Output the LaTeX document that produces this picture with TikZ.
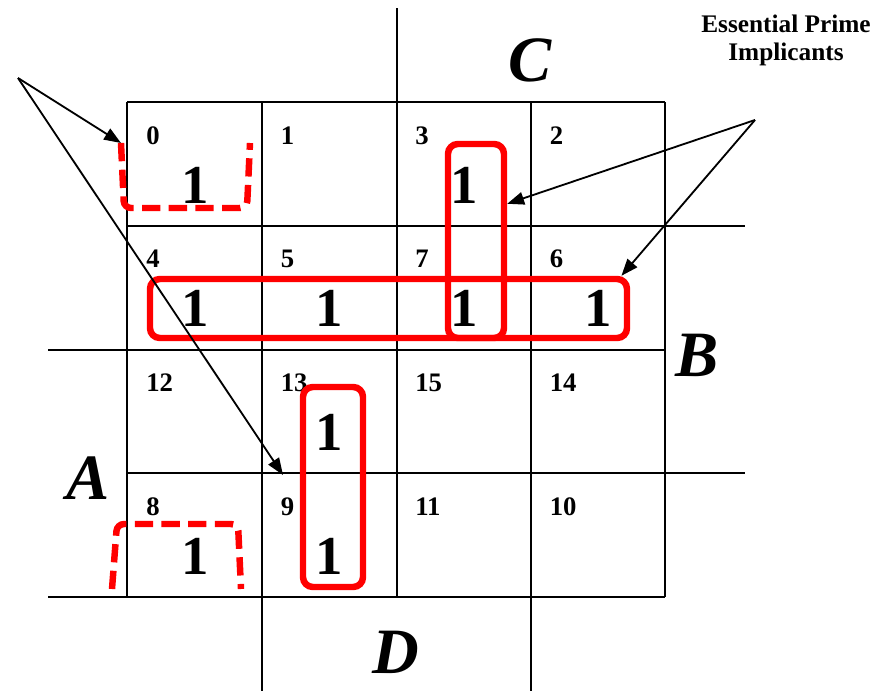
\documentclass[tikz,border=0pt]{standalone}
\usepackage{fontspec}
\setmainfont{Liberation Serif}
\usetikzlibrary{arrows.meta, fit}
\tikzset{
  kline/.style={line width=1.5pt},
  idx/.style={anchor=base west, inner sep=0pt, font=\bfseries\fontsize{19}{19}\selectfont},
  one/.style={anchor=base, inner sep=0pt, font=\bfseries\fontsize{39}{39}\selectfont},
  var/.style={inner sep=0pt, font=\bfseries\itshape\fontsize{46}{46}\selectfont},
  group/.style={draw=red, line width=4.6pt, rounded corners=7pt, inner sep=0pt},
  dgroup/.style={draw=red, line width=4.6pt, dash pattern=on 13pt off 6pt, rounded corners=5pt},
  arrow/.style={line width=1.3pt, -{Triangle[length=12pt, width=9pt]}}
}

\begin{document}
\begin{tikzpicture}[x=0.025cm, y=-0.025cm]
  \useasboundingbox (0,0) rectangle (884,691);

  % map lines
  \draw[kline] (127,102) -- (665,102);
  \draw[kline] (127,226) -- (745,226);
  \draw[kline] (48,350) -- (665,350);
  \draw[kline] (127,473) -- (745,473);
  \draw[kline] (48,597) -- (665,597);
  \draw[kline] (127,102) -- (127,597);
  \draw[kline] (262,102) -- (262,691);
  \draw[kline] (397,8) -- (397,597);
  \draw[kline] (531,102) -- (531,691);
  \draw[kline] (665,102) -- (665,597);

  % minterm numbers
  \foreach \n [count=\k from 0] in {0,1,3,2,4,5,7,6,12,13,15,14,8,9,11,10} {
    \pgfmathtruncatemacro\c{mod(\k,4)}
    \pgfmathtruncatemacro\r{div(\k,4)}
    \node[idx] (m\n) at (127+134.5*\c+19, 102+123.75*\r+42) {\n};
  }

  % ones
  \foreach \c/\r/\n in {0/0/0, 2/0/3, 0/1/4, 1/1/5, 2/1/7, 3/1/6, 1/2/13, 1/3/9, 0/3/8}
    \node[one] (one\n) at (127+134.5*\c+68, 102+123.75*\r+101) {1};

  % variables
  \node[var] (vc) at (530,60) {C};
  \node[var] (vb) at (697,355) {B};
  \node[var] (va) at (88,478) {A};
  \node[var] (vd) at (396,652) {D};

  \node[align=center, font=\bfseries\fontsize{18}{20}\selectfont] (epi) at (786,40) {Essential Prime\\Implicants};

  % groups
  \node[group, fit={(150,279) (627,338)}] (grow) {};
  \node[group, fit={(448,144) (504,338)}] (g37) {};
  \node[group, fit={(303,387) (363,587)}] (g139) {};

  \coordinate (d0) at (121,143);
  \draw[dgroup] (d0) -- (124,208) -- (247,208) -- (250,143);
  \coordinate (d8) at (112,589);
  \draw[dgroup] (d8) -- (117,524) -- (238,524) -- (241,589);

  % pointers
  \coordinate (np) at (18,78);
  \coordinate (ep) at (755,120);
  \coordinate (tip9) at (283,475);
  \draw[arrow] (np) -- (d0);
  \draw[arrow] (np) -- (tip9);
  \draw[arrow] (ep) -- (g37.50);
  \draw[arrow] (ep) -- (grow.8);

\end{tikzpicture}
\end{document}
